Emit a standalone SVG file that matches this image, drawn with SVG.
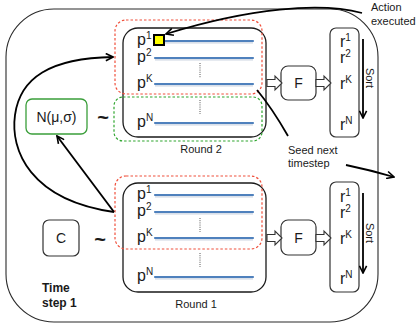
<svg xmlns="http://www.w3.org/2000/svg" width="419" height="327" viewBox="0 0 419 327">
  <defs>
    <style>
      text { font-family: "Liberation Sans", Arial, sans-serif; fill: #1a1a1a; }
      .frame { fill: none; stroke: #2b2b2b; stroke-width: 1.1; }
      .round { fill: #fff; stroke: #1a1a1a; stroke-width: 1.3; }
      .box { fill: #fff; stroke: #333; stroke-width: 1.2; }
      .red { fill: none; stroke: #f0503c; stroke-width: 1.2; stroke-dasharray: 2.5 2; }
      .green { fill: none; stroke: #2fa62f; stroke-width: 1.2; stroke-dasharray: 2.5 2; }
      .gbox { fill: #fff; stroke: #3a9e3a; stroke-width: 1.3; }
      .traj { stroke: #4f81bd; stroke-width: 2.2; stroke-linecap: round; }
      .shadow { stroke: #b9c6d8; stroke-width: 1.2; opacity: 0.7; }
      .dots { stroke: #555; stroke-width: 1; stroke-dasharray: 1 1.2; }
      .lbl { font-size: 16px; }
      .sup { font-size: 10px; }
      .big { font-size: 14px; }
      .small { font-size: 11px; }
      .tilde { font-size: 20px; font-weight: bold; }
      .bold { font-size: 12px; font-weight: bold; }
      .conn { fill: none; stroke: #000; stroke-width: 1.8; }
      .block { fill: #fff; stroke: #333; stroke-width: 1.1; }
    </style>
    <marker id="vhead" viewBox="0 0 10 10" refX="9" refY="5" markerWidth="9" markerHeight="9" markerUnits="userSpaceOnUse" orient="auto">
      <path d="M1,1 L9,5 L1,9" fill="none" stroke="#000" stroke-width="1.8"/>
    </marker>
  </defs>

  <!-- time step frame -->
  <g id="frame">
    <rect class="frame" x="6" y="9" width="372" height="313" rx="48" ry="48"/>
    <text class="bold" x="42" y="292">Time</text>
    <text class="bold" x="42" y="307">step 1</text>
  </g>

  <!-- distribution nodes -->
  <g id="gaussian">
    <rect class="gbox" x="26" y="99" width="61" height="35" rx="6"/>
    <text class="big" x="56.5" y="122" text-anchor="middle">N(μ,σ)</text>
  </g>
  <g id="tilde-2"><text class="tilde" x="103" y="124" text-anchor="middle">~</text></g>

  <g id="prior">
    <rect class="box" x="43" y="220" width="36" height="36" rx="6"/>
    <text class="big" x="61" y="243" text-anchor="middle">C</text>
  </g>
  <g id="tilde-1"><text class="tilde" x="100" y="246" text-anchor="middle">~</text></g>

  <!-- round 2 trajectories -->
  <g id="round2">
    <rect class="round" x="123" y="28" width="143" height="109" rx="15"/>
    <rect class="red" x="115" y="20" width="147" height="74" rx="11"/>
    <rect class="green" x="114" y="97" width="148" height="44" rx="9"/>
    <line class="shadow" x1="165" y1="42.8" x2="253" y2="42.8"/>
    <line class="traj" x1="165" y1="41" x2="253" y2="41"/>
    <line class="shadow" x1="155" y1="59.8" x2="253" y2="59.8"/>
    <line class="traj" x1="155" y1="58" x2="253" y2="58"/>
    <line class="shadow" x1="155" y1="85.8" x2="253" y2="85.8"/>
    <line class="traj" x1="155" y1="84" x2="253" y2="84"/>
    <line class="shadow" x1="155" y1="124.8" x2="253" y2="124.8"/>
    <line class="traj" x1="155" y1="123" x2="253" y2="123"/>
    <line class="dots" x1="200" y1="63" x2="200" y2="78"/>
    <line class="dots" x1="200" y1="100" x2="200" y2="114"/>
    <text class="lbl" x="137" y="45">p<tspan class="sup" dy="-6">1</tspan></text>
    <text class="lbl" x="137" y="62">p<tspan class="sup" dy="-6">2</tspan></text>
    <text class="lbl" x="137" y="88">p<tspan class="sup" dy="-6">K</tspan></text>
    <text class="lbl" x="137" y="127">p<tspan class="sup" dy="-6">N</tspan></text>
    <rect x="154" y="35" width="10" height="10" fill="#ffff00" stroke="#000" stroke-width="2"/>
    <text class="small" x="201" y="153" text-anchor="middle">Round 2</text>
  </g>

  <g id="eval2">
    <rect class="box" x="281" y="66" width="35" height="34" rx="7"/>
    <text class="big" x="298.5" y="88" text-anchor="middle">F</text>
  </g>

  <g id="ranks2">
    <rect class="box" x="330" y="28" width="29" height="109" rx="6"/>
    <text class="lbl" x="340" y="47">r<tspan class="sup" dy="-6">1</tspan></text>
    <text class="lbl" x="340" y="63">r<tspan class="sup" dy="-6">2</tspan></text>
    <text class="lbl" x="340" y="89">r<tspan class="sup" dy="-6">K</tspan></text>
    <text class="lbl" x="340" y="130">r<tspan class="sup" dy="-6">N</tspan></text>
    <text class="small" transform="translate(366,78) rotate(90)" text-anchor="middle">Sort</text>
  </g>

  <!-- round 1 trajectories -->
  <g id="round1">
    <rect class="round" x="123" y="183" width="143" height="109" rx="15"/>
    <rect class="red" x="115" y="176" width="147" height="73" rx="11"/>
    <line class="shadow" x1="155" y1="196.8" x2="253" y2="196.8"/>
    <line class="traj" x1="155" y1="195" x2="253" y2="195"/>
    <line class="shadow" x1="155" y1="213.8" x2="253" y2="213.8"/>
    <line class="traj" x1="155" y1="212" x2="253" y2="212"/>
    <line class="shadow" x1="155" y1="239.8" x2="253" y2="239.8"/>
    <line class="traj" x1="155" y1="238" x2="253" y2="238"/>
    <line class="shadow" x1="155" y1="278.8" x2="253" y2="278.8"/>
    <line class="traj" x1="155" y1="277" x2="253" y2="277"/>
    <line class="dots" x1="200" y1="218" x2="200" y2="232"/>
    <line class="dots" x1="200" y1="253" x2="200" y2="267"/>
    <text class="lbl" x="137" y="199">p<tspan class="sup" dy="-6">1</tspan></text>
    <text class="lbl" x="137" y="216">p<tspan class="sup" dy="-6">2</tspan></text>
    <text class="lbl" x="137" y="242">p<tspan class="sup" dy="-6">K</tspan></text>
    <text class="lbl" x="137" y="281">p<tspan class="sup" dy="-6">N</tspan></text>
    <text class="small" x="196" y="308" text-anchor="middle">Round 1</text>
  </g>

  <g id="eval1">
    <rect class="box" x="281" y="220" width="35" height="35" rx="7"/>
    <text class="big" x="298.5" y="243" text-anchor="middle">F</text>
  </g>

  <g id="ranks1">
    <rect class="box" x="330" y="182" width="29" height="110" rx="6"/>
    <text class="lbl" x="340" y="202">r<tspan class="sup" dy="-6">1</tspan></text>
    <text class="lbl" x="340" y="218">r<tspan class="sup" dy="-6">2</tspan></text>
    <text class="lbl" x="340" y="244">r<tspan class="sup" dy="-6">K</tspan></text>
    <text class="lbl" x="340" y="284">r<tspan class="sup" dy="-6">N</tspan></text>
    <text class="small" transform="translate(366,233) rotate(90)" text-anchor="middle">Sort</text>
  </g>

  <!-- annotations -->
  <g id="note-action">
    <text class="small" x="371" y="11">Action</text>
    <text class="small" x="371" y="25">executed</text>
  </g>
  <g id="note-seed">
    <text class="small" x="288" y="154">Seed next</text>
    <text class="small" x="288" y="167">timestep</text>
  </g>

  <!-- connectors -->
  <g id="connectors">
    <!-- hollow block arrows into F and into the ranking -->
    <path class="block" d="M267,79.5 H275 V76 L282,83 L275,90 V86.5 H267 Z"/>
    <path class="block" d="M316,79.5 H324 V76 L331,83 L324,90 V86.5 H316 Z"/>
    <path class="block" d="M267,234.5 H275 V231 L282,238 L275,245 V241.5 H267 Z"/>
    <path class="block" d="M316,234.5 H324 V231 L331,238 L324,245 V241.5 H316 Z"/>
    <!-- sort arrows -->
    <line class="conn" x1="363" y1="39" x2="363" y2="118" marker-end="url(#vhead)"/>
    <line class="conn" x1="363" y1="193" x2="363" y2="273" marker-end="url(#vhead)"/>
    <!-- elites refit the gaussian -->
    <line class="conn" x1="114" y1="212" x2="57" y2="136" marker-end="url(#vhead)"/>
    <!-- elites carried into round 2 -->
    <path class="conn" d="M114,212 C30,200 10,150 15,115 C20,78 50,58 113,57" marker-end="url(#vhead)"/>
    <!-- executed action -->
    <path class="conn" d="M362,13 C320,2 250,8 166,34" marker-end="url(#vhead)"/>
    <!-- seed for the next timestep -->
    <path class="conn" d="M257,90 Q272,108 288,136"/>
    <path class="conn" d="M346,165 Q370,170 394,177" marker-end="url(#vhead)"/>
  </g>
</svg>
